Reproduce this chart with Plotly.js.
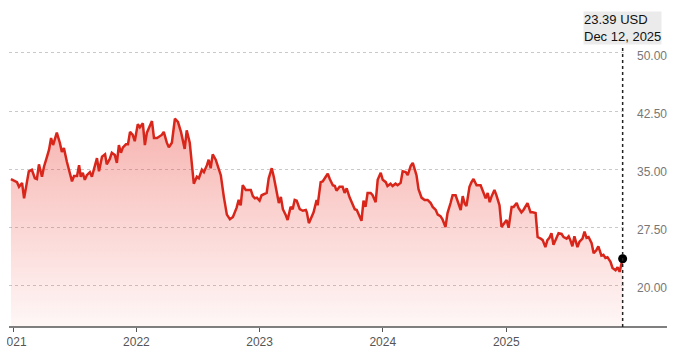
<!DOCTYPE html>
<html>
<head>
<meta charset="utf-8">
<script src="https://cdn.plot.ly/plotly-3.0.1.min.js"></script>
<style>
  html, body { margin: 0; padding: 0; background: #ffffff; }
  #chart { width: 680px; height: 355px; }
</style>
</head>
<body>
<div id="chart"></div>
<script>
// Share price (USD), weekly readings from the reference
const dates = [
  '2020-12-25','2020-12-31','2021-01-12','2021-01-18','2021-01-27','2021-02-02','2021-02-11','2021-02-16','2021-02-25','2021-03-06',
  '2021-03-12','2021-03-18','2021-03-27','2021-04-02','2021-04-11','2021-04-17','2021-04-23','2021-04-29','2021-05-10','2021-05-19',
  '2021-05-25','2021-05-31','2021-06-09','2021-06-15','2021-06-24','2021-06-30','2021-07-09','2021-07-15','2021-07-20','2021-07-26',
  '2021-08-01','2021-08-07','2021-08-16','2021-08-22','2021-08-31','2021-09-06','2021-09-12','2021-09-21','2021-09-30','2021-10-05',
  '2021-10-14','2021-10-20','2021-10-29','2021-11-04','2021-11-10','2021-11-16','2021-11-22','2021-12-01','2021-12-07','2021-12-13',
  '2021-12-21','2021-12-27','2022-01-05','2022-01-11','2022-01-20','2022-01-26','2022-02-01','2022-02-16','2022-02-22','2022-03-03',
  '2022-03-17','2022-03-23','2022-04-01','2022-04-07','2022-04-16','2022-04-25','2022-05-04','2022-05-13','2022-05-24','2022-05-30',
  '2022-06-08','2022-06-20','2022-06-29','2022-07-05','2022-07-14','2022-07-20','2022-07-29','2022-08-03','2022-08-09','2022-08-15',
  '2022-08-24','2022-08-30','2022-09-08','2022-09-17','2022-09-26','2022-10-05','2022-10-14','2022-10-25','2022-10-31','2022-11-06',
  '2022-11-12','2022-11-21','2022-11-27','2022-12-06','2022-12-12','2022-12-18','2022-12-24','2023-01-01','2023-01-07','2023-01-16',
  '2023-01-22','2023-01-28','2023-02-06','2023-02-12','2023-02-21','2023-02-27','2023-03-05','2023-03-11','2023-03-19','2023-03-25',
  '2023-04-03','2023-04-09','2023-04-15','2023-04-21','2023-04-30','2023-05-09','2023-05-18','2023-05-21','2023-05-27','2023-06-04',
  '2023-06-10','2023-06-19','2023-06-22','2023-07-01','2023-07-07','2023-07-16','2023-07-22','2023-07-28','2023-08-06','2023-08-12',
  '2023-08-17','2023-08-26','2023-09-04','2023-09-10','2023-09-16','2023-09-25','2023-10-04','2023-10-10','2023-10-16','2023-10-22',
  '2023-10-30','2023-11-05','2023-11-11','2023-11-17','2023-11-26','2023-12-02','2023-12-11','2023-12-17','2023-12-26','2024-01-01',
  '2024-01-10','2024-01-15','2024-01-24','2024-01-30','2024-02-08','2024-02-14','2024-02-23','2024-02-29','2024-03-09','2024-03-15',
  '2024-03-24','2024-03-30','2024-04-10','2024-04-16','2024-04-25','2024-05-04','2024-05-13','2024-05-22','2024-05-28','2024-06-06',
  '2024-06-12','2024-06-20','2024-06-26','2024-07-05','2024-07-11','2024-07-20','2024-07-26','2024-08-04','2024-08-10','2024-08-19',
  '2024-08-25','2024-08-31','2024-09-05','2024-09-14','2024-09-20','2024-09-26','2024-10-05','2024-10-11','2024-10-17','2024-10-26',
  '2024-11-01','2024-11-07','2024-11-13','2024-11-18','2024-11-27','2024-12-03','2024-12-12','2024-12-18','2024-12-27','2025-01-02',
  '2025-01-08','2025-01-17','2025-01-23','2025-02-01','2025-02-06','2025-02-15','2025-02-21','2025-02-27','2025-03-05','2025-03-14',
  '2025-03-20','2025-03-29','2025-04-04','2025-04-13','2025-04-19','2025-04-27','2025-05-03','2025-05-09','2025-05-15','2025-05-21',
  '2025-05-30','2025-06-05','2025-06-14','2025-06-20','2025-06-29','2025-07-05','2025-07-10','2025-07-16','2025-07-22','2025-07-31',
  '2025-08-06','2025-08-15','2025-08-21','2025-08-27','2025-09-02','2025-09-11','2025-09-17','2025-09-25','2025-10-01','2025-10-10',
  '2025-10-16','2025-10-22','2025-10-28','2025-11-06','2025-11-12','2025-11-21','2025-11-27','2025-12-03','2025-12-12'
];
const prices = [
  33.7,33.6,33.3,32.7,33.2,31.2,33.8,34.7,34.9,33.8,
  33.7,35.6,34.0,35.3,36.6,37.5,39.0,38.1,39.7,38.4,
  37.2,37.7,35.9,34.9,33.4,34.1,34.1,35.5,34.0,34.5,
  33.6,34.2,34.6,34.0,35.5,36.4,34.7,36.6,36.9,35.6,
  36.3,37.1,36.8,35.8,38.1,37.1,37.8,38.2,38.2,39.8,
  39.4,38.6,40.8,40.4,40.9,38.1,39.7,41.2,39.0,39.0,
  39.4,39.8,38.4,37.8,38.4,41.5,41.1,39.8,37.6,40.0,
  38.4,33.1,34.0,33.8,34.9,34.6,35.5,36.2,35.1,36.9,
  36.2,35.3,34.2,31.4,29.1,28.5,28.8,30.0,31.0,30.3,
  32.9,32.3,32.3,32.3,31.5,31.2,31.3,30.9,31.6,31.8,
  31.9,33.8,35.1,34.0,31.9,30.6,31.4,29.8,29.1,28.4,
  30.1,29.8,31.0,30.9,29.8,29.6,29.7,29.4,28.0,28.8,
  29.4,31.0,30.3,33.3,33.4,34.0,34.4,33.7,32.9,32.8,
  32.2,32.7,32.7,31.9,32.5,31.3,30.5,29.8,29.7,29.1,
  28.3,30.9,30.1,31.9,31.9,31.6,30.7,33.6,34.5,33.6,
  33.3,32.8,33.1,32.8,33.1,32.9,33.2,34.7,34.6,34.2,
  35.4,35.8,34.2,32.4,31.3,31.0,31.0,30.6,30.1,29.7,
  29.1,28.9,28.5,27.5,29.3,30.6,31.6,31.6,30.7,29.7,
  31.5,30.5,30.2,32.7,33.3,33.7,32.9,32.9,32.9,31.9,
  31.2,31.9,30.7,31.4,32.3,31.6,30.3,27.5,28.1,28.4,
  27.4,30.1,30.1,30.6,30.0,29.4,29.7,30.1,30.6,29.4,
  29.4,29.3,26.2,26.0,25.8,24.9,25.8,26.1,26.7,25.2,
  26.0,26.7,26.6,26.2,26.0,26.3,25.8,25.0,26.3,24.9,
  25.6,26.0,26.9,26.1,26.2,25.4,24.1,24.5,25.0,23.8,
  23.9,23.5,23.6,23.0,22.2,21.9,22.3,21.7,23.39
];
const yTicks = [20, 27.5, 35, 42.5, 50];
const xTickVals = ['2021-01-01','2022-01-01','2023-01-01','2024-01-01','2025-01-01'];
const xTickText = ['2021','2022','2023','2024','2025'];
const monthNames = ['Jan','Feb','Mar','Apr','May','Jun','Jul','Aug','Sep','Oct','Nov','Dec'];
const currency = 'USD';

const lastDate = dates[dates.length - 1];
const lastPrice = prices[prices.length - 1];
const [ly, lm, ld] = lastDate.split('-').map(Number);
const lastLabel = lastPrice.toFixed(2) + ' ' + currency + '<br>' + monthNames[lm - 1] + ' ' + ld + ', ' + ly;

const FONT = '"Liberation Sans", Arial, Helvetica, sans-serif';
const TOP_Y = 0.9826;

const traces = [
  {
    type: 'scatter', mode: 'lines', x: dates, y: prices,
    line: { color: '#d9261b', width: 2.5 },
    fill: 'tozeroy',
    fillgradient: {
      type: 'vertical',
      start: 14.5, stop: 41.5,
      colorscale: [[0, 'rgba(235,60,50,0.04)'], [1, 'rgba(232,55,45,0.38)']]
    },
    hoverinfo: 'skip'
  },
  {
    type: 'scatter', mode: 'markers', x: [lastDate], y: [lastPrice],
    marker: { color: '#000000', size: 9 },
    cliponaxis: false, hoverinfo: 'skip'
  }
];

const layout = {
  width: 680, height: 355,
  margin: { l: 9, r: 56, t: 40, b: 28 },
  paper_bgcolor: '#ffffff', plot_bgcolor: '#ffffff',
  showlegend: false, hovermode: false,
  font: { family: FONT, size: 12, color: '#666666' },
  xaxis: {
    type: 'date',
    range: ['2020-12-19 07:00', '2025-12-16'],
    tickvals: xTickVals, ticktext: xTickText,
    ticklabeloverflow: 'allow',
    ticks: 'outside', ticklen: 4, tickwidth: 1, tickcolor: '#555555',
    showgrid: false, zeroline: false, showline: false,
    tickfont: { family: FONT, size: 12, color: '#555555' },
    fixedrange: true
  },
  yaxis: {
    side: 'right',
    range: [14.57, 51.68],
    tickvals: yTicks, tickformat: '.2f',
    ticks: '', ticklabelstandoff: 12, ticklabelshift: 3,
    showgrid: true, gridcolor: '#c9c9c9', gridwidth: 1, griddash: 'dot',
    zeroline: false, showline: false,
    tickfont: { family: FONT, size: 12, color: '#777777' },
    fixedrange: true
  },
  shapes: [
    { type: 'line', xref: 'paper', yref: 'paper', x0: 0, x1: 1.0699, y0: 0, y1: 0,
      line: { color: '#555555', width: 1.5 }, layer: 'above' },
    { type: 'line', xref: 'x', yref: 'paper', x0: lastDate, x1: lastDate, y0: 0, y1: TOP_Y,
      line: { color: '#222222', width: 1.5, dash: 'dot' }, layer: 'above' },
    { type: 'rect', xref: 'paper', yref: 'paper', x0: -0.03, x1: -0.0036, y0: -0.021, y1: -0.11,
      fillcolor: '#ffffff', line: { width: 0 }, layer: 'above' }
  ],
  annotations: [
    { xref: 'x', yref: 'paper', x: lastDate, y: TOP_Y, xanchor: 'center', yanchor: 'bottom',
      text: lastLabel, align: 'left', showarrow: false,
      font: { family: FONT, size: 13, color: '#111111' },
      bgcolor: '#ebebeb', borderpad: 0 }
  ]
};

Plotly.newPlot('chart', traces, layout, { displayModeBar: false, staticPlot: true });
</script>
</body>
</html>
